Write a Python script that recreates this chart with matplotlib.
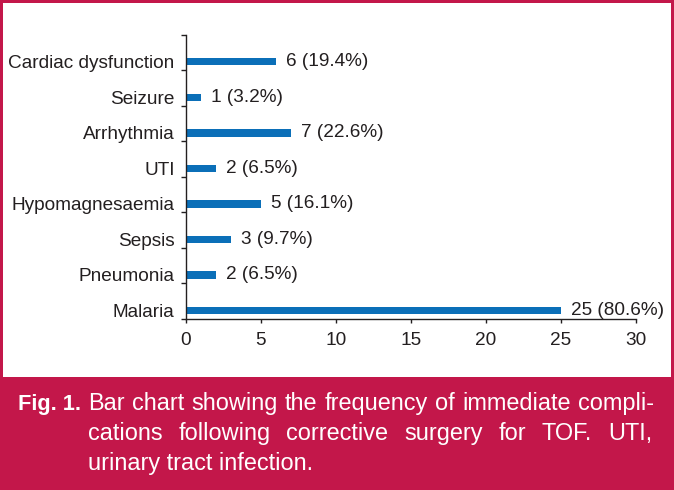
import matplotlib
matplotlib.use("Agg")
import matplotlib.pyplot as plt
from matplotlib.patches import Rectangle

# data (bottom to top as drawn)
categories = ["Malaria", "Pneumonia", "Sepsis", "Hypomagnesaemia", "UTI",
              "Arrhythmia", "Seizure", "Cardiac dysfunction"]
counts = [25, 2, 3, 5, 2, 7, 1, 6]
percents = [80.6, 6.5, 9.7, 16.1, 6.5, 22.6, 3.2, 19.4]
x_ticks = [0, 5, 10, 15, 20, 25, 30]

caption_label = "Fig. 1."
caption_lines = [
    "Bar chart showing the frequency of immediate compli-",
    "cations following corrective surgery for TOF. UTI,",
    "urinary tract infection.",
]

W, H = 674, 490
CRIMSON = "#C3174A"
BLUE = "#0B6FB8"
INK = "#231F20"
plt.rcParams["font.family"] = ["Liberation Sans", "DejaVu Sans"]

fig = plt.figure(figsize=(W / 100, H / 100), dpi=100, facecolor=CRIMSON)
# white chart panel inside the crimson frame
fig.patches.append(Rectangle((3 / W, 113 / H), 668 / W, 374 / H,
                             transform=fig.transFigure, facecolor="white",
                             edgecolor="none", zorder=-5))

ax = fig.add_axes([185.7 / W, 171 / H, (635.7 - 185.7) / W, 284.3 / H])
ax.set_zorder(2)
ax.set_facecolor("none")
pos = list(range(len(categories)))
ax.barh(pos, counts, height=0.21, color=BLUE, zorder=2)

for y, c, p in zip(pos, counts, percents):
    ax.annotate(f"{c} ({p}%)", xy=(c, y), xytext=(7.5, 0),
                textcoords="offset points", va="center", ha="left",
                fontsize=13.7, color=INK, annotation_clip=False)

ax.set_xlim(0, 30)
ax.set_ylim(-0.24, len(categories) - 0.24)
ax.set_xticks(x_ticks)
ax.set_xticklabels([str(t) for t in x_ticks], fontsize=13.7, color=INK)
ax.set_yticks([k - 0.24 for k in range(len(categories) + 1)])
ax.set_yticklabels([])
ax.set_yticks(pos, minor=True)
ax.set_yticklabels(categories, minor=True, fontsize=13.7, color=INK)

ax.tick_params(axis="x", direction="out", length=2.6, width=1, color=INK, pad=7)
ax.tick_params(axis="y", which="major", direction="out", length=3.6, width=1, color=INK)
ax.tick_params(axis="y", which="minor", length=0, pad=8)
for side in ("top", "right"):
    ax.spines[side].set_visible(False)
for side in ("left", "bottom"):
    ax.spines[side].set_color(INK)
    ax.spines[side].set_linewidth(1)

# caption, justified like the journal layout
cap_font = dict(family="Liberation Sans", fontsize=16.9, color="white", va="baseline")
fig.text(18 / W, 1 - 410 / H, caption_label, family="Liberation Sans",
         fontsize=15.7, fontweight="bold", color="white", va="baseline")

renderer = fig.canvas.get_renderer()


def put_line(text, y_px, x0=88, x1=654, justify=True):
    words = text.split(" ")
    if not justify:
        fig.text(x0 / W, 1 - y_px / H, text, **cap_font)
        return
    items = [fig.text(0, 1 - y_px / H, w, **cap_font) for w in words]
    widths = [t.get_window_extent(renderer).width for t in items]
    gap = (x1 - x0 - sum(widths)) / (len(words) - 1)
    x = x0
    for t, w in zip(items, widths):
        t.set_x(x / W)
        x += w + gap


put_line(caption_lines[0], 410, x1=654)
put_line(caption_lines[1], 440, x1=652)
put_line(caption_lines[2], 470, justify=False)

fig.savefig("out.png", dpi=100, facecolor=CRIMSON)
